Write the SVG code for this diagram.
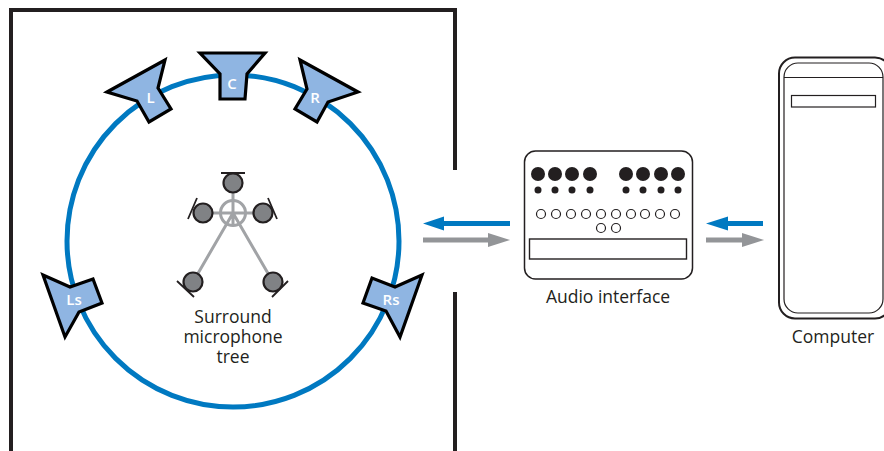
<svg xmlns="http://www.w3.org/2000/svg" width="884" height="451" viewBox="0 0 884 451">
<style>
.wall{fill:none;stroke:#231f20;stroke-width:4}
.spk{fill:#8fb5e2;stroke:#000;stroke-width:3.2;stroke-linejoin:miter}
.spkt{font-family:"Open Sans","Noto Sans",sans-serif;font-weight:600;font-size:15px;fill:#fff;text-anchor:middle}
.lbl{font-family:"Open Sans","Noto Sans",sans-serif;font-size:17.500px;fill:#231f20;text-anchor:middle}
.mic{fill:#808285;stroke:#231f20;stroke-width:2.200}
.bar{stroke:#231f20;stroke-width:1.800;fill:none}
.arm{stroke:#a1a3a6;stroke-width:3;fill:none}
.big{fill:#231f20}
.open{fill:#fff;stroke:#231f20;stroke-width:1.200}
.box{fill:#fff;stroke:#231f20;stroke-width:1.400}
.blue{stroke:#0079c1;stroke-width:5;fill:none}
.gray{stroke:#939598;stroke-width:5;fill:none}
</style>
<rect width="884" height="451" fill="#fff"/>
<g id="room"><path class="wall" d="M11 451V10H455V170M455 292V451"/></g>
<g id="ring"><circle cx="233" cy="241" r="166" fill="none" stroke="#0079c1" stroke-width="5"/></g>
<g id="speaker-L"><path class="spk" d="M107 92L165 60L158 88L171 109L149 122L137 101Z"/><text class="spkt" x="150.500" y="103">L</text></g>
<g id="speaker-C"><path class="spk" d="M200 53H265L247 74L245 99H220V74Z"/><text class="spkt" x="232" y="89">C</text></g>
<g id="speaker-R"><path class="spk" d="M300 60L358 92L328 102L317 122L295 109L307 89Z"/><text class="spkt" x="315" y="103">R</text></g>
<g id="speaker-Ls"><path class="spk" d="M43 275L70 287L93 279L102 303L79 312L65 337Z"/><text class="spkt" x="74" y="305">Ls</text></g>
<g id="speaker-Rs"><path class="spk" d="M422 275L395 287L372 278L363 303L386 311L400 337Z"/><text class="spkt" x="391" y="305">Rs</text></g>
<g id="mic-tree">
<circle cx="233" cy="213" r="12.500" fill="none" stroke="#a1a3a6" stroke-width="3"/>
<path class="arm" d="M233 193V226M213 213H253M233 213L193 282M233 213L273 282"/>
<path class="bar" d="M221 173H245M197 198L188 219M268 198L277 219M177 281L194 297M288 281L272 297"/>
<circle class="mic" cx="233" cy="183" r="9.500"/>
<circle class="mic" cx="203" cy="213" r="9.500"/>
<circle class="mic" cx="263" cy="213" r="9.500"/>
<circle class="mic" cx="193" cy="282" r="9.500"/>
<circle class="mic" cx="273" cy="282" r="9.500"/>
<text class="lbl" x="233" y="323">Surround</text>
<text class="lbl" x="233" y="343">microphone</text>
<text class="lbl" x="233" y="363">tree</text>
</g>
<g id="audio-interface">
<rect x="524.500" y="151" width="168" height="128" rx="11" fill="#fff" stroke="#231f20" stroke-width="1.500"/>
<g class="big"><circle cx="538" cy="174" r="7"/><circle cx="555" cy="174" r="7"/><circle cx="572" cy="174" r="7"/><circle cx="590" cy="174" r="7"/><circle cx="626" cy="174" r="7"/><circle cx="643" cy="174" r="7"/><circle cx="661" cy="174" r="7"/><circle cx="678" cy="174" r="7"/>
<circle cx="538" cy="190" r="3.500"/><circle cx="555" cy="190" r="3.500"/><circle cx="572" cy="190" r="3.500"/><circle cx="590" cy="190" r="3.500"/><circle cx="626" cy="190" r="3.500"/><circle cx="643" cy="190" r="3.500"/><circle cx="661" cy="190" r="3.500"/><circle cx="678" cy="190" r="3.500"/></g>
<g class="open"><circle cx="541" cy="214" r="4.500"/><circle cx="556" cy="214" r="4.500"/><circle cx="571" cy="214" r="4.500"/><circle cx="586" cy="214" r="4.500"/><circle cx="601" cy="214" r="4.500"/><circle cx="616" cy="214" r="4.500"/><circle cx="631" cy="214" r="4.500"/><circle cx="645" cy="214" r="4.500"/><circle cx="660" cy="214" r="4.500"/><circle cx="675" cy="214" r="4.500"/><circle cx="601" cy="228" r="4.500"/><circle cx="616" cy="228" r="4.500"/></g>
<rect class="box" x="529.500" y="239" width="157" height="20"/>
<text class="lbl" x="608" y="303">Audio interface</text>
</g>
<g id="computer">
<rect x="779" y="57.500" width="112" height="261" rx="16" fill="#fff" stroke="#231f20" stroke-width="2"/>
<rect x="784" y="63" width="99" height="250" rx="14" fill="#fff" stroke="#231f20" stroke-width="1.200"/>
<path d="M784 77.500H883" stroke="#231f20" stroke-width="1.200" fill="none"/>
<rect x="791.500" y="95.500" width="84" height="11.500" fill="#fff" stroke="#231f20" stroke-width="1.200"/>
<text class="lbl" x="833" y="343">Computer</text>
</g>
<g id="connectors">
<path class="blue" d="M510 223.500H442"/><path d="M423 223.500L444 216.500V230.500Z" fill="#0079c1"/>
<path class="gray" d="M423 240H490"/><path d="M510 240L488 233V247Z" fill="#939598"/>
<path class="blue" d="M763 223.500H726"/><path d="M706 223.500L728 216.500V230.500Z" fill="#0079c1"/>
<path class="gray" d="M706 240H744"/><path d="M764 240L742 233V247Z" fill="#939598"/>
</g>
</svg>
